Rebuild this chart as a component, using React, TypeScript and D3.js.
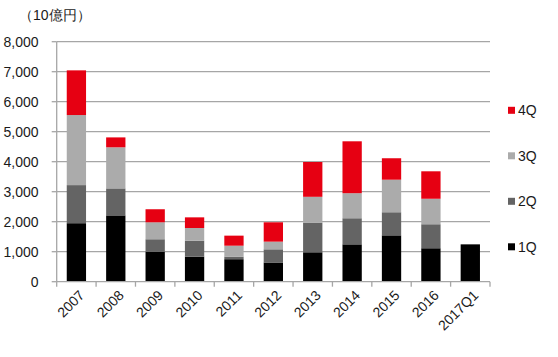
import React from "react";
import * as d3 from "d3";

const categories = ["2007", "2008", "2009", "2010", "2011", "2012", "2013", "2014", "2015", "2016", "2017Q1"];
const q1 = [1950, 2210, 1000, 835, 750, 640, 980, 1245, 1545, 1115, 1245];
const q2 = [1270, 900, 415, 530, 85, 440, 985, 870, 770, 800, 0];
const q3 = [2335, 1370, 565, 425, 365, 255, 865, 835, 1085, 850, 0];
const q4 = [1490, 330, 435, 355, 335, 645, 1160, 1730, 715, 915, 0];
const seriesNames = ["1Q", "2Q", "3Q", "4Q"];
const seriesColors = ["#000000", "#646464", "#ababab", "#e60012"];
const yTicks = [0, 1000, 2000, 3000, 4000, 5000, 6000, 7000, 8000];

export default function App() {
  const W = 558, H = 357;
  const left = 56.7, right = 490, top = 41.7, bottom = 281.7;
  const x = d3.scaleBand().domain(categories).range([left, right]).paddingInner(0.51).paddingOuter(0.255);
  const y = d3.scaleLinear().domain([0, 8000]).range([bottom, top]);
  const rows = categories.map((c, i) => ({ cat: c, "1Q": q1[i], "2Q": q2[i], "3Q": q3[i], "4Q": q4[i] }));
  const stacked = d3.stack<any>().keys(seriesNames)(rows);
  const fmt = d3.format(",");
  const band = (right - left) / categories.length;
  const font = "'Liberation Sans', Arial, sans-serif";
  return (
    <svg width={W} height={H} style={{ position: "absolute", left: 0, top: 0, background: "#fff" }} fontFamily={font}>
      <text x={19} y={20} fontSize={14} fill="#1a1a1a">（10億円）</text>
      {yTicks.map((t) => (
        <g key={t}>
          {t > 0 && <line x1={left} x2={right} y1={y(t)} y2={y(t)} stroke="#a6a6a6" strokeWidth={1.3} />}
          <line x1={left - 5} x2={left} y1={y(t)} y2={y(t)} stroke="#a6a6a6" strokeWidth={1.3} />
          <text x={38.5} y={y(t) + 5} fontSize={14} textAnchor="end" fill="#1a1a1a">{fmt(t)}</text>
        </g>
      ))}
      {stacked.map((s, si) => (
        <g key={s.key} fill={seriesColors[si]}>
          {s.map((d, i) => d[1] - d[0] > 0 ? (
            <rect key={i} x={x(categories[i])} width={x.bandwidth()} y={y(d[1])} height={y(d[0]) - y(d[1])} />
          ) : null)}
        </g>
      ))}
      <line x1={left} x2={left} y1={top} y2={bottom} stroke="#a6a6a6" strokeWidth={1.3} />
      <line x1={left} x2={right} y1={bottom} y2={bottom} stroke="#a6a6a6" strokeWidth={1.3} />
      {d3.range(categories.length + 1).map((i) => (
        <line key={i} x1={left + i * band} x2={left + i * band} y1={bottom} y2={bottom + 5} stroke="#a6a6a6" strokeWidth={1.3} />
      ))}
      {categories.map((c) => {
        const cx = (x(c) as number) + x.bandwidth() / 2 + 2;
        const cy = bottom + 7.5;
        return (
          <text key={c} x={cx} y={cy} fontSize={14} textAnchor="end" fill="#1a1a1a"
            transform={`rotate(-45 ${cx} ${cy})`} dy="0.7em">{c}</text>
        );
      })}
      {seriesNames.slice().reverse().map((n, i) => {
        const si = seriesNames.length - 1 - i;
        const cy = 110.3 + i * 45.5;
        return (
          <g key={n}>
            <rect x={508} y={cy - 3.5} width={7} height={7} fill={seriesColors[si]} />
            <text x={518} y={cy + 5} fontSize={14} fill="#1a1a1a">{n}</text>
          </g>
        );
      })}
    </svg>
  );
}
